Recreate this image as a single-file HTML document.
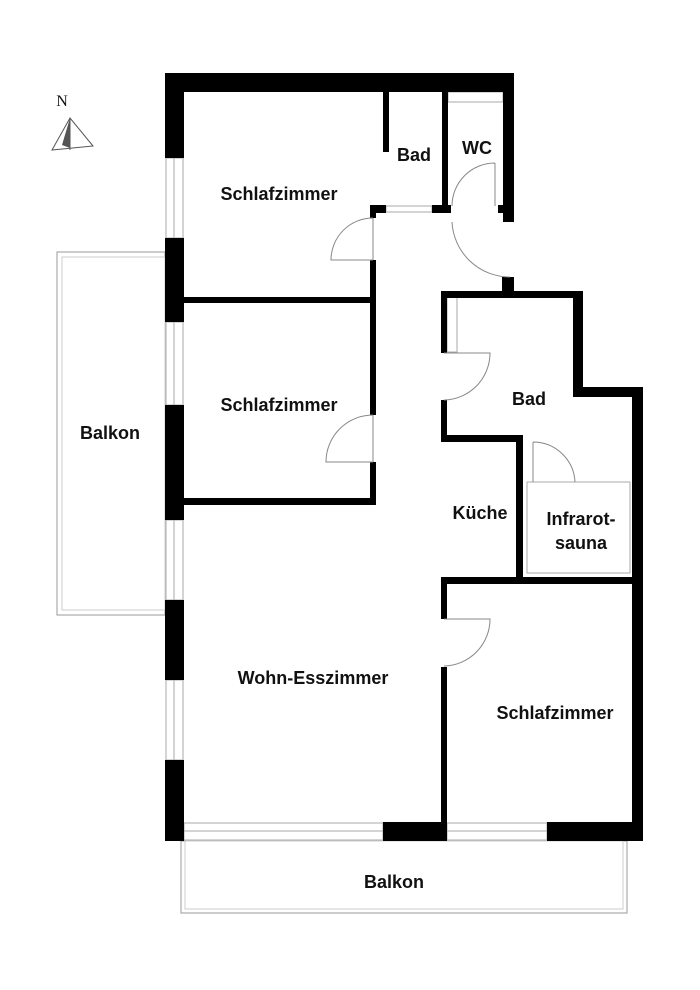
<!DOCTYPE html>
<html><head><meta charset="utf-8"><style>
html,body{margin:0;padding:0;background:#fff}
svg{display:block}
text{font-family:"Liberation Sans",sans-serif;font-weight:bold;font-size:18px;fill:#111;text-anchor:middle}
</style></head><body>
<svg width="700" height="990" viewBox="0 0 700 990" xmlns="http://www.w3.org/2000/svg">
<g fill="none" stroke="#999" stroke-width="1">
<rect x="57" y="252" width="108" height="363"/>
<rect x="62" y="257" width="103" height="353" stroke="#ccc"/>
<rect x="181" y="841" width="446" height="72"/>
<rect x="185" y="841" width="438" height="68" stroke="#ccc"/>
</g>
<g fill="#fff" stroke="#aaa" stroke-width="1">
<rect x="166" y="158" width="17" height="80"/><line x1="174" y1="158" x2="174" y2="238"/>
<rect x="166" y="322" width="17" height="83"/><line x1="174" y1="322" x2="174" y2="405"/>
<rect x="166" y="520" width="17" height="80"/><line x1="174" y1="520" x2="174" y2="600"/>
<rect x="166" y="680" width="17" height="80"/><line x1="174" y1="680" x2="174" y2="760"/>
<rect x="184" y="823" width="199" height="17"/><line x1="184" y1="831" x2="383" y2="831"/>
<rect x="447" y="823" width="100" height="17"/><line x1="447" y1="831" x2="547" y2="831"/>
<rect x="386" y="206" width="46" height="6"/>
<rect x="448" y="92" width="55" height="10"/>
<rect x="447" y="297" width="10" height="55"/>
<rect x="527" y="482" width="103" height="91"/>
</g>
<g fill="#000">
<rect x="165" y="73" width="349" height="19"/>
<rect x="503" y="73" width="11" height="149"/>
<rect x="165" y="73" width="19" height="85"/>
<rect x="165" y="238" width="19" height="84"/>
<rect x="165" y="405" width="19" height="115"/>
<rect x="165" y="600" width="19" height="80"/>
<rect x="165" y="760" width="19" height="81"/>
<rect x="165" y="822" width="19" height="19"/>
<rect x="383" y="822" width="64" height="19"/>
<rect x="547" y="822" width="96" height="19"/>
<rect x="632" y="387" width="11" height="454"/>
<rect x="573" y="387" width="70" height="10"/>
<rect x="573" y="291" width="10" height="106"/>
<rect x="441" y="291" width="142" height="7"/>
<rect x="502" y="277" width="12" height="20"/>
<rect x="441" y="291" width="6" height="62"/>
<rect x="441" y="400" width="6" height="41"/>
<rect x="441" y="435" width="82" height="7"/>
<rect x="516" y="435" width="7" height="143"/>
<rect x="441" y="577" width="202" height="7"/>
<rect x="441" y="577" width="6" height="42"/>
<rect x="441" y="667" width="6" height="170"/>
<rect x="383" y="92" width="6" height="60"/>
<rect x="442" y="92" width="6" height="120"/>
<rect x="370" y="205" width="16" height="8"/>
<rect x="432" y="205" width="19" height="8"/>
<rect x="370" y="205" width="6" height="13"/>
<rect x="498" y="205" width="6" height="8"/>
<rect x="370" y="260" width="6" height="43"/>
<rect x="184" y="297" width="192" height="6"/>
<rect x="370" y="297" width="6" height="118"/>
<rect x="370" y="462" width="6" height="43"/>
<rect x="184" y="498" width="192" height="7"/>
</g>
<g fill="none" stroke="#888" stroke-width="1">
<path d="M373 218 L373 260 M373 218 A42 42 0 0 0 331 260 L373 260"/>
<path d="M373 415 L373 462 M373 415 A47 47 0 0 0 326 462 L373 462"/>
<path d="M495 163 L495 206 M495 163 A43 43 0 0 0 452 206"/>
<path d="M452 222 A58 58 0 0 0 510 277"/>
<path d="M444 353 L490 353 A47 47 0 0 1 444 400"/>
<path d="M533 442 L533 482 M533 442 A42 42 0 0 1 575 482"/>
<path d="M444 619 L490 619 A47 47 0 0 1 444 666"/>
</g>
<g fill="none" stroke="#555" stroke-width="1">
<path d="M52 150 L70 118 L93 146 Z"/><path d="M70 118 L70 150"/>
</g>
<path d="M70 118 L70 148 L62 145 Z" fill="#555"/>
<text x="62" y="106" style="font-weight:normal;font-size:16px;font-family:'Liberation Serif',serif">N</text>
<text x="279" y="200">Schlafzimmer</text>
<text x="414" y="161">Bad</text>
<text x="477" y="154">WC</text>
<text x="279" y="411">Schlafzimmer</text>
<text x="110" y="439">Balkon</text>
<text x="529" y="405">Bad</text>
<text x="480" y="519">Küche</text>
<text x="581" y="525">Infrarot-</text>
<text x="581" y="549">sauna</text>
<text x="313" y="684">Wohn-Esszimmer</text>
<text x="555" y="719">Schlafzimmer</text>
<text x="394" y="888">Balkon</text>
</svg>
</body></html>
